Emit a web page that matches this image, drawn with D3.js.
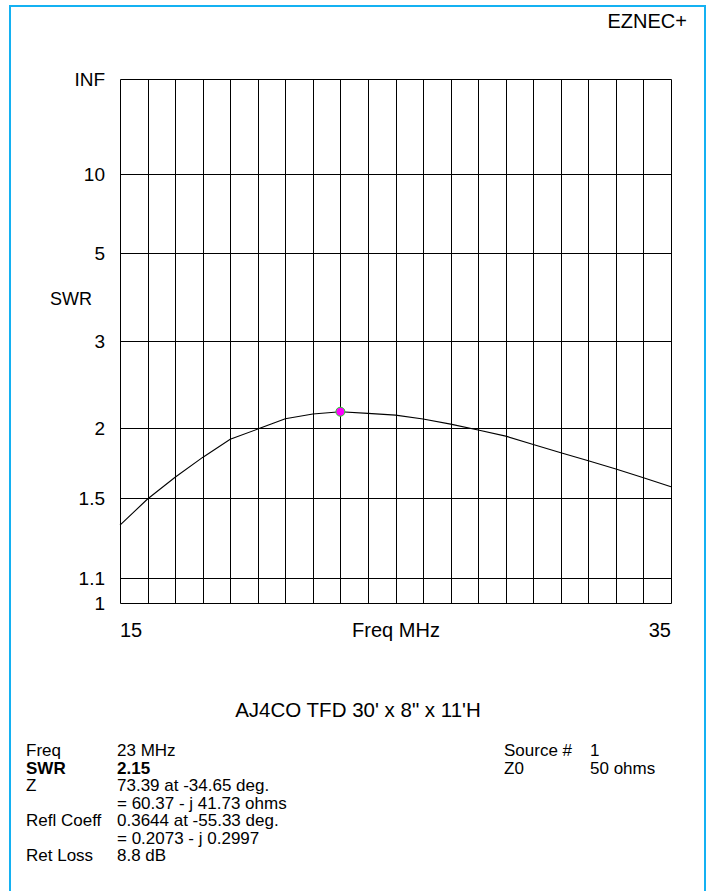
<!DOCTYPE html>
<html><head><meta charset="utf-8">
<script src="https://cdn.jsdelivr.net/npm/d3@7"></script>
<style>html,body{margin:0;padding:0;background:#fff;}svg{display:block;font-family:"Liberation Sans",Arial,sans-serif;}</style>
</head><body>
<script>
const freqs = [15,16,17,18,19,20,21,22,23,24,25,26,27,28,29,30,31,32,33,34,35];
const swr = [1.350,1.496,1.632,1.770,1.909,1.994,2.085,2.128,2.15,2.134,2.118,2.082,2.037,1.986,1.935,1.867,1.804,1.746,1.688,1.629,1.571];
const yTickVals = [1,1.1,1.5,2,3,5,10,Infinity];
const yTickLabels = ["1","1.1","1.5","2","3","5","10","INF"];
const xTickVals = [15,35];
const markerFreq = 23, markerSWR = 2.15;
const title = "AJ4CO TFD 30' x 8\" x 11'H";
const infoLeft = [["Freq","23 MHz",false],["SWR","2.15",true],["Z","73.39 at -34.65 deg.",false],["","= 60.37 - j 41.73 ohms",false],["Refl Coeff","0.3644 at -55.33 deg.",false],["","= 0.2073 - j 0.2997",false],["Ret Loss","8.8 dB",false]];
const infoRight = [["Source #","1"],["Z0","50 ohms"]];

(function(){
const W=711,H=891;
const svg=d3.select("body").append("svg").attr("width",W).attr("height",H);
svg.append("rect").attr("x",10).attr("y",6).attr("width",695).attr("height",900)
  .attr("fill","none").attr("stroke","#14b1f2").attr("stroke-width",2);

const pLeft=120,pRight=671,pTop=78.5,pBottom=603.3;
const rho = s => s===Infinity?1:(s-1)/(s+1);
const x=d3.scaleLinear().domain([15,35]).range([pLeft,pRight]);
const yr=d3.scaleLinear().domain([0,1]).range([pBottom,pTop]);
const y = s => yr(rho(s));

const g=svg.append("g");
g.selectAll("line.v").data(d3.range(15,36)).enter().append("line")
  .attr("x1",d=>Math.round(x(d))+0.5).attr("x2",d=>Math.round(x(d))+0.5)
  .attr("y1",Math.round(pTop)+0.5).attr("y2",Math.round(pBottom)+0.5)
  .attr("stroke","#000").attr("stroke-width",1);
g.selectAll("line.h").data(yTickVals).enter().append("line")
  .attr("x1",Math.round(pLeft)+0.5).attr("x2",Math.round(pRight)+0.5)
  .attr("y1",d=>Math.round(y(d))+0.5).attr("y2",d=>Math.round(y(d))+0.5)
  .attr("stroke","#000").attr("stroke-width",1);

g.selectAll("text.yl").data(yTickVals).enter().append("text")
  .attr("x",105).attr("y",d=>y(d)+7).attr("text-anchor","end")
  .attr("font-size",19).text((d,i)=>yTickLabels[i]);
svg.append("text").attr("x",92).attr("y",305).attr("text-anchor","end").attr("font-size",18).text("SWR");
xTickVals.forEach((v,i)=>{
  svg.append("text").attr("x",x(v)).attr("y",637).attr("text-anchor",i===0?"start":"end").attr("font-size",20).text(String(v));
});
svg.append("text").attr("x",396).attr("y",637).attr("text-anchor","middle").attr("font-size",20).text("Freq MHz");
svg.append("text").attr("x",687).attr("y",28).attr("text-anchor","end").attr("font-size",20).text("EZNEC+");

const line=d3.line().x((d,i)=>x(freqs[i])).y(d=>y(d));
svg.append("path").datum(swr).attr("d",line).attr("fill","none").attr("stroke","#000").attr("stroke-width",1.1);
svg.append("circle").attr("cx",x(markerFreq)).attr("cy",y(markerSWR)).attr("r",4.5)
  .attr("fill","#ff00ff").attr("stroke","#22e022").attr("stroke-width",1);

svg.append("text").attr("x",358).attr("y",717).attr("text-anchor","middle").attr("font-size",20.5).text(title);
const rowH=17.5, y0=756;
infoLeft.forEach((r,i)=>{
  const t1=svg.append("text").attr("x",26).attr("y",y0+i*rowH).attr("font-size",17).text(r[0]);
  const t2=svg.append("text").attr("x",117).attr("y",y0+i*rowH).attr("font-size",17).text(r[1]);
  if(r[2]){t1.attr("font-weight","bold");t2.attr("font-weight","bold");}
});
infoRight.forEach((r,i)=>{
  svg.append("text").attr("x",504).attr("y",y0+i*rowH).attr("font-size",17).text(r[0]);
  svg.append("text").attr("x",590).attr("y",y0+i*rowH).attr("font-size",17).text(r[1]);
});
})();
</script>
</body></html>
